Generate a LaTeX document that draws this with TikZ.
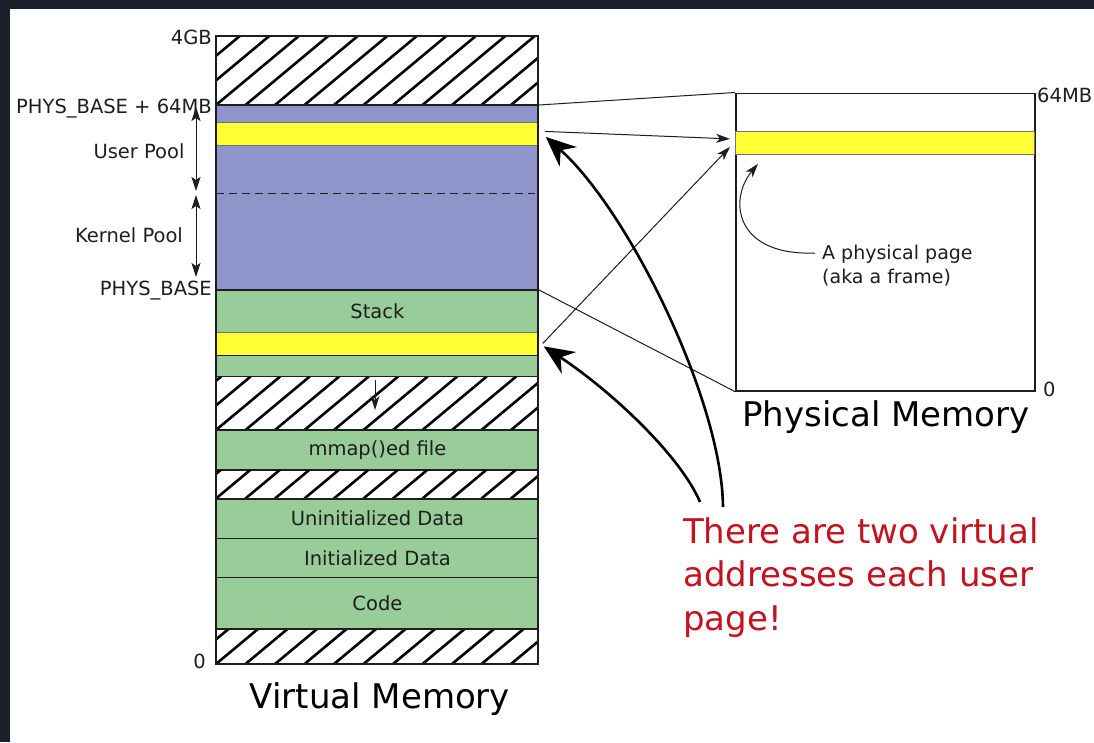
\documentclass[tikz,border=0pt]{standalone}
\usepackage{fontspec}
\setmainfont{DejaVu Sans}
\usetikzlibrary{arrows.meta}

\definecolor{poolblue}{HTML}{8F95CB}
\definecolor{segreen}{HTML}{98CC98}
\definecolor{pageyellow}{HTML}{FFFF33}
\definecolor{notered}{HTML}{C4121E}
\definecolor{pageframe}{HTML}{1B1F2B}
\definecolor{ink}{HTML}{1E1E1E}

% diagonal hatching for an unused address range of the virtual column
\newcommand{\hatchband}[2]{%
  \begin{scope}
    \clip (216,#1) rectangle (538,#2);
    \foreach \k in {-4,...,12}
      \draw[hatchline] ({216+\k*29.5},#2) -- ++({1.2*(#2-#1)},{#1-#2});
  \end{scope}
  \draw[bandedge] (216,#1) rectangle (538,#2);
}

\begin{document}
\begin{tikzpicture}[
  x=1pt, y=-1pt,
  lab/.style={font=\fontsize{19.5}{23}\selectfont, text=ink, inner sep=0pt},
  title/.style={font=\fontsize{34}{40}\selectfont, text=black, inner sep=0pt},
  band/.style={rectangle, draw=ink, line width=0.9pt, anchor=north west,
    minimum width=322pt, inner sep=0pt, font=\fontsize{19.5}{23}\selectfont, text=ink},
  page/.style={rectangle, fill=pageyellow, draw=black!55, line width=0.8pt,
    anchor=north west, inner sep=0pt, minimum height=23pt},
  hatchline/.style={line width=2.6pt, black},
  bandedge/.style={line width=1.4pt, ink},
  thin/.style={line width=1pt, ink},
  thinarrow/.style={line width=1pt, ink, -{Stealth[length=14pt,width=9pt,inset=4pt]}},
  twoway/.style={line width=1pt, ink,
    {Stealth[length=14pt,width=9pt,inset=3pt]}-{Stealth[length=14pt,width=9pt,inset=3pt]}},
  thickarrow/.style={line width=2.6pt, black, -{Stealth[length=30pt,width=26pt,inset=10pt]}},
]
% page background and dark window edges
\fill[white] (0,0) rectangle (1094,742);
\fill[pageframe] (0,0) rectangle (1094,9);
\fill[pageframe] (0,0) rectangle (10,742);
\useasboundingbox (0,0) rectangle (1094,742);

% ---------- virtual address space ----------
\hatchband{36}{105}
\node[band, fill=poolblue, minimum height=184pt] (kpool) at (216,105) {};
\node[page, minimum width=322pt] (vpage1) at (216,122) {};
\draw[thin, dash pattern=on 8pt off 5pt] (216,193) -- (535,193);

\node[band, fill=segreen, minimum height=42pt] (stack) at (216,289.5) {Stack};
\node[page, minimum width=322pt] (vpage2) at (216,331.5) {};
\node[band, fill=segreen, minimum height=21.5pt] (stackrest) at (216,354.5) {};
\hatchband{376.5}{430}
\node[band, fill=segreen, minimum height=39.5pt] (mmap) at (216,430) {mmap()ed file};
\hatchband{469.5}{498.5}
\node[band, fill=segreen, minimum height=39.5pt] (bss) at (216,498.5) {Uninitialized Data};
\node[band, fill=segreen, minimum height=39pt] (data) at (216,538) {Initialized Data};
\node[band, fill=segreen, minimum height=52pt] (code) at (216,577) {Code};
\hatchband{629}{664}
\draw[line width=1.6pt, ink] (216,36) rectangle (538,664);

% stack growth
\coordinate (growtop) at (375,380);
\coordinate (growbot) at (375,410);
\draw[thinarrow] (growtop) -- (growbot);

% address labels
\node[lab, anchor=base east] (l4gb) at (212,44) {4GB};
\node[lab, anchor=base east] (lphystop) at (212,113) {PHYS\_BASE + 64MB};
\node[lab, anchor=base east] (lphys) at (212,295) {PHYS\_BASE};
\node[lab, anchor=base east] (lzero) at (206,668) {0};
\node[lab, anchor=base] (luser) at (139,158) {User Pool};
\node[lab, anchor=base] (lkern) at (129,242) {Kernel Pool};
\coordinate (up1) at (196,107);
\coordinate (up2) at (196,191);
\coordinate (kp1) at (196,195);
\coordinate (kp2) at (196,277);
\draw[twoway] (up1) -- (up2);
\draw[twoway] (kp1) -- (kp2);

\node[title, anchor=base] (vmt) at (380,708) {Virtual Memory};

% ---------- physical memory ----------
\node[rectangle, draw=ink, line width=1.6pt, anchor=north west, inner sep=0pt,
  minimum width=299pt, minimum height=297.5pt] (pm) at (735,92.5) {};
\node[page, minimum width=299pt] (ppage) at (735,131) {};
\node[lab, anchor=base west] (l64) at (1037,102) {64MB};
\node[lab, anchor=base west] (lpz) at (1043,396) {0};
\node[title, anchor=base] (pmt) at (886,426) {Physical Memory};

\node[anchor=north west, inner sep=0pt, align=left, text=ink,
  font=\fontsize{19}{24}\selectfont] (note) at (822,245)
  {A physical page\\(aka a frame)};
\draw[thinarrow] ([shift={(-7pt,-8pt)}]note.north west)
  .. controls (735,256) and (728,200) .. ([shift={(23pt,-9pt)}]ppage.south west);

% kernel pool mapped onto all of physical memory
\draw[thin] (kpool.north east) -- (pm.north west);
\draw[thin] (kpool.south east) -- (pm.south west);

% both virtual pages map to one frame
\draw[thinarrow] ([shift={(6pt,2.5pt)}]vpage1.east) -- ([shift={(-5pt,4pt)}]ppage.west);
\draw[thinarrow] ([xshift=4pt]vpage2.east) -- ([shift={(-5pt,-4pt)}]ppage.west);

% ---------- remark ----------
\node[anchor=north west, inner sep=0pt, align=left, text=notered,
  font=\fontsize{34}{43.5}\selectfont] (remark) at (683,517)
  {There are two virtual\\addresses each user\\page!};
\draw[thickarrow] ([shift={(40pt,10pt)}]remark.north west)
  .. controls (722,400) and (628,210) .. ([shift={(7pt,-3pt)}]vpage1.east);
\draw[thickarrow] ([shift={(17pt,15pt)}]remark.north west)
  .. controls (680,455) and (610,390) .. ([shift={(5pt,-3pt)}]vpage2.east);
\end{tikzpicture}
\end{document}
